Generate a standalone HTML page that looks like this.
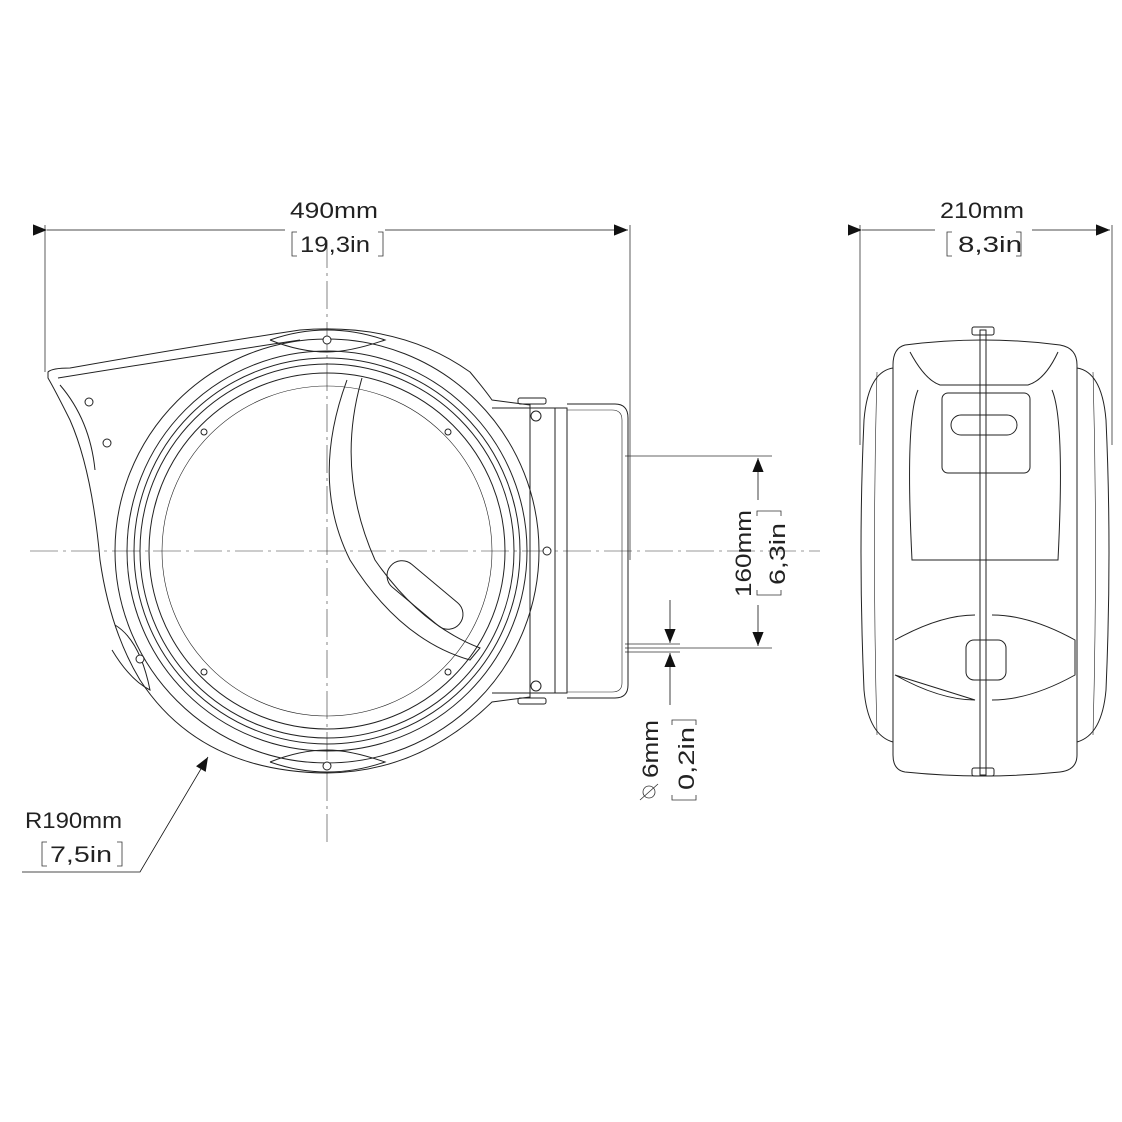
<!DOCTYPE html>
<html><head><meta charset="utf-8"><style>
html,body{margin:0;padding:0;background:#fff}
svg{display:block}
text{font-family:"Liberation Sans",sans-serif;fill:#222}
</style></head><body>
<svg width="1122" height="1122" viewBox="0 0 1122 1122" xmlns="http://www.w3.org/2000/svg">
<defs>
<marker id="a" viewBox="0 0 10 10" refX="10" refY="5" markerWidth="22" markerHeight="14" markerUnits="userSpaceOnUse" orient="auto"><path d="M0,1 L10,5 L0,9 z" fill="#111"/></marker>
</defs>
<g fill="none" stroke="#333" stroke-width="0.8">
<line x1="30" y1="551" x2="820" y2="551" stroke-dasharray="28,5,3,5" stroke-width="0.6"/>
<line x1="327" y1="240" x2="327" y2="845" stroke-dasharray="28,5,3,5" stroke-width="0.6"/>
<line x1="45" y1="225" x2="45" y2="372"/>
<line x1="630" y1="225" x2="630" y2="560"/>
<line x1="47" y1="230" x2="285" y2="230" marker-start="url(#a)" stroke="#111"/>
<line x1="385" y1="230" x2="628" y2="230" marker-end="url(#a)" stroke="#111"/>
<line x1="860" y1="225" x2="860" y2="445"/>
<line x1="1112" y1="225" x2="1112" y2="445"/>
<line x1="862" y1="230" x2="935" y2="230" marker-start="url(#a)" stroke="#111"/>
<line x1="1032" y1="230" x2="1110" y2="230" marker-end="url(#a)" stroke="#111"/>
<path d="M297,232 h-5 v24 h5 M378,232 h5 v24 h-5"/>
<path d="M952,232 h-5 v24 h5 M1016,232 h5 v24 h-5"/>
<line x1="625" y1="456" x2="772" y2="456"/>
<line x1="625" y1="648" x2="772" y2="648"/>
<line x1="625" y1="644" x2="680" y2="644"/>
<line x1="625" y1="652" x2="680" y2="652"/>
<line x1="758" y1="500" x2="758" y2="458" marker-end="url(#a)" stroke="#111"/>
<line x1="758" y1="605" x2="758" y2="646" marker-end="url(#a)" stroke="#111"/>
<line x1="670" y1="600" x2="670" y2="643" marker-end="url(#a)" stroke="#111"/>
<line x1="670" y1="705" x2="670" y2="653" marker-end="url(#a)" stroke="#111"/>
<path d="M757,516 v-5 h24 v5 M757,590 v5 h24 v-5"/>
<path d="M672,725 v-5 h24 v5 M672,795 v5 h24 v-5"/>
<circle cx="649" cy="792" r="6"/><line x1="640" y1="800" x2="658" y2="784"/>
<path d="M22,872 H140 L208,757" stroke="#111" marker-end="url(#a)"/>
<path d="M47,842 h-5 v24 h5 M117,842 h5 v24 h-5"/>
</g>
<g fill="none" stroke="#222" stroke-width="1">
<path d="M48,372 Q52,368 70,368 Q200,345 300,330 Q400,322 470,372 Q485,390 492,400 L530,405 L530,697 L492,702 Q420,772 327,773 Q200,772 140,680 Q110,630 100,560 Q92,470 70,420 Q55,390 48,378 Z"/>
<path d="M58,378 Q200,355 300,340"/>
<path d="M60,385 Q90,420 95,470"/>
<circle cx="327" cy="551" r="212"/>
<circle cx="327" cy="551" r="200"/>
<circle cx="327" cy="551" r="193"/>
<circle cx="327" cy="551" r="187"/>
<circle cx="327" cy="551" r="178"/>
<circle cx="327" cy="551" r="165" stroke-width="0.6"/>
<path d="M347,380 Q310,480 350,560 Q400,640 470,660 L480,648 Q420,625 375,560 Q335,470 362,378"/>
<rect x="380" y="580" width="90" height="30" rx="15" transform="rotate(40 425 595)"/>
<path d="M492,408 L555,408 L555,693 L492,693"/>
<rect x="555" y="408" width="12" height="285"/>
<path d="M567,404 H615 Q628,404 628,418 V685 Q628,698 615,698 H567"/>
<path d="M567,410 H612 Q622,410 622,420 V683 Q622,692 612,692 H567" stroke-width="0.6"/>
<rect x="518" y="398" width="28" height="6" rx="2"/>
<rect x="518" y="698" width="28" height="6" rx="2"/>
<path d="M270,340 Q327,320 385,340 Q350,352 327,352 Q300,352 270,340"/>
<path d="M270,762 Q327,782 385,762 Q350,750 327,750 Q300,750 270,762"/>
<path d="M115,625 Q140,640 150,690 Q130,680 112,650"/>
</g>
<g fill="#fff" stroke="#222" stroke-width="1">
<circle cx="327" cy="340" r="4"/><circle cx="327" cy="766" r="4"/>
<circle cx="89" cy="402" r="4"/><circle cx="107" cy="443" r="4"/>
<circle cx="140" cy="659" r="4"/>
<circle cx="536" cy="416" r="5"/><circle cx="536" cy="686" r="5"/>
<circle cx="547" cy="551" r="4"/>
<circle cx="204" cy="432" r="3"/><circle cx="448" cy="432" r="3"/>
<circle cx="204" cy="672" r="3"/><circle cx="448" cy="672" r="3"/>
</g>
<g fill="none" stroke="#222" stroke-width="1">
<path d="M893,368 Q868,372 864,420 Q858,550 864,690 Q868,735 893,742"/>
<path d="M1077,368 Q1102,372 1106,420 Q1112,550 1106,690 Q1102,735 1077,742"/>
<path d="M877,372 Q872,550 877,735" stroke-width="0.6"/>
<path d="M1093,372 Q1098,550 1093,735" stroke-width="0.6"/>
<path d="M905,345 Q983,335 1060,345 Q1077,348 1077,365 V755 Q1077,770 1060,772 Q983,780 905,772 Q893,770 893,755 V365 Q893,348 905,345 Z"/>
<path d="M910,352 Q925,380 940,385 H1028 Q1045,380 1058,352"/>
<path d="M918,390 Q905,420 912,560 H1058 Q1065,420 1052,390"/>
<rect x="942" y="393" width="88" height="80" rx="6"/>
<rect x="951" y="415" width="66" height="20" rx="10"/>
<path d="M895,640 Q940,615 975,615 M992,615 Q1030,615 1075,640 L1075,675 Q1030,700 992,700 M975,700 Q940,700 895,675 Z"/>
<rect x="966" y="640" width="40" height="40" rx="8"/>
<rect x="980" y="330" width="6" height="445"/>
<rect x="972" y="327" width="22" height="8" rx="2"/>
<rect x="972" y="768" width="22" height="8" rx="2"/>
</g>
<g font-size="22">
<text x="290" y="218" textLength="88" lengthAdjust="spacingAndGlyphs">490mm</text>
<text x="300" y="252" textLength="70" lengthAdjust="spacingAndGlyphs">19,3in</text>
<text x="940" y="218" textLength="84" lengthAdjust="spacingAndGlyphs">210mm</text>
<text x="958" y="252" textLength="64" lengthAdjust="spacingAndGlyphs">8,3in</text>
<text x="25" y="828" textLength="97" lengthAdjust="spacingAndGlyphs">R190mm</text>
<text x="50" y="862" textLength="62" lengthAdjust="spacingAndGlyphs">7,5in</text>
<text transform="translate(751,597) rotate(-90)" textLength="87" lengthAdjust="spacingAndGlyphs">160mm</text>
<text transform="translate(785,585) rotate(-90)" textLength="62" lengthAdjust="spacingAndGlyphs">6,3in</text>
<text transform="translate(658,778) rotate(-90)" textLength="58" lengthAdjust="spacingAndGlyphs">6mm</text>
<text transform="translate(694,790) rotate(-90)" textLength="63" lengthAdjust="spacingAndGlyphs">0,2in</text>
</g>
</svg>
</body></html>
